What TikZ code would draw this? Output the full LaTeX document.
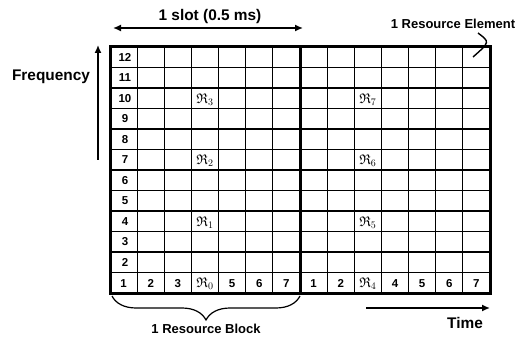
\documentclass[tikz,border=0pt]{standalone}
\usepackage{amsmath,amssymb}
\usepackage{fontspec}
\setmainfont{Liberation Sans}
\usetikzlibrary{arrows.meta, decorations.pathreplacing}

\begin{document}
\begin{tikzpicture}[
        x=1pt, y=-1pt,
        num/.style={font=\fontsize{11.5}{13}\selectfont\bfseries, inner sep=0pt, anchor=base},
        re/.style={font=\fontsize{14}{16}\selectfont, inner sep=0pt},
        lbl/.style={font=\fontsize{15.4}{18}\selectfont\bfseries, inner sep=0pt, anchor=base},
        slbl/.style={font=\fontsize{13}{16}\selectfont\bfseries, inner sep=0pt, anchor=base},
        gridline/.style={line width=1.2pt},
        border/.style={line width=3pt},
        arrow/.style={-{Latex[length=8pt, width=7pt]}, line width=1.4pt},
        darrow/.style={{Latex[length=8pt, width=7pt]}-{Latex[length=8pt, width=7pt]}, line width=1.4pt}
    ]
    \useasboundingbox (0,0) rectangle (523,337);

    % Grid
    \foreach \i in {1,...,13}
        \draw[gridline] ({110+\i*27.1429},47) -- ++(0,246);
    \foreach \j in {1,...,11}
        \draw[gridline] (110,{47+\j*20.5}) -- ++(380,0);
    \draw[border] (110,47) rectangle (490,293);
    \draw[border] (300,47) -- (300,293);

    % Row and column numbers
    \foreach \j in {2,...,12}
        \node[num] (row\j) at (125,{297.2-(\j-0.5)*20.5}) {\j};
    \foreach \c/\t in {1/1,2/2,3/3,5/5,6/6,7/7,8/1,9/2,11/4,12/5,13/6,14/7}
        \node[num] (col\c) at ({110+(\c-0.5)*27.1429},287) {\t};

    % Resource symbols
    \foreach \k/\c/\r in {0/4/1,1/4/4,2/4/7,3/4/10,4/10/1,5/10/4,6/10/7,7/10/10}
        \node[re] (R\k) at ({110+(\c-0.5)*27.1429},{294-(\r-0.5)*20.5}) {$\mathfrak{R}_{\k}$};

    % Slot arrow
    \coordinate (slotL) at (113,28);
    \coordinate (slotR) at (303,28);
    \draw[darrow] (slotL) -- (slotR);
    \node[lbl] (slot) at (210,21) {1 slot (0.5 ms)};

    % Frequency axis
    \coordinate (freqB) at (98,160);
    \coordinate (freqT) at (98,45);
    \draw[arrow] (freqB) -- (freqT);
    \node[lbl] (freq) at (51,81) {Frequency};

    % Resource element pointer
    \node[slbl] (elem) at (453,29) {1 Resource Element};
    \coordinate (elemA) at (478,33);
    \coordinate (elemB) at (473,57);
    \draw[line width=1.4pt] (elemA) .. controls (490,42) .. (elemB);

    % Resource block brace
    \coordinate (blockL) at (112,296);
    \coordinate (blockR) at (300,296);
    \draw[line width=1.2pt, decorate, decoration={brace, mirror, amplitude=24pt}] (blockL) -- (blockR);
    \node[slbl] (block) at (206,333) {1 Resource Block};

    % Time axis
    \coordinate (timeS) at (366,308);
    \coordinate (timeE) at (490,308);
    \draw[arrow] (timeS) -- (timeE);
    \node[lbl] (time) at (465,328) {Time};
\end{tikzpicture}
\end{document}
